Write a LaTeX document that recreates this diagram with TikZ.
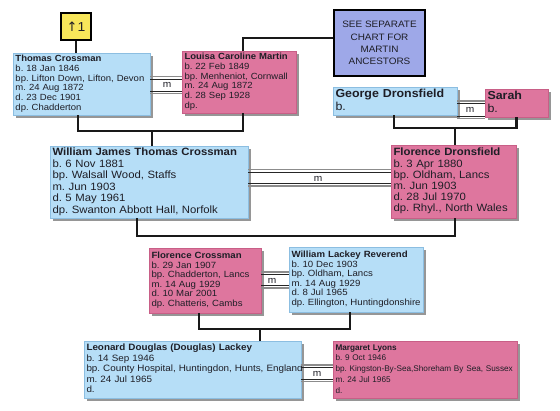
\documentclass[tikz,border=0pt]{standalone}
\usepackage{fontspec}
\setmainfont[FakeStretch=1.07]{Liberation Sans}
\newfontfamily\dejavu{DejaVu Sans}
\newfontfamily\plainfont{Liberation Sans}
\usetikzlibrary{shadows}
\frenchspacing
\newcommand{\plines}[1]{\begin{tabular}{@{}l@{}}#1\end{tabular}}
\definecolor{pblue}{RGB}{182,222,247}
\definecolor{pbluebd}{RGB}{140,190,225}
\definecolor{ppink}{RGB}{222,118,158}
\definecolor{ppinkbd}{RGB}{200,95,135}
\definecolor{plav}{RGB}{158,168,232}
\definecolor{pyel}{RGB}{247,230,90}
\definecolor{shgray}{RGB}{150,150,150}
\definecolor{txt}{RGB}{30,30,38}
\tikzset{
  box/.style={rectangle, inner xsep=2.5pt, inner ysep=1pt, align=left, text=txt,
     drop shadow={shadow xshift=2.5pt, shadow yshift=-2.5pt, fill=shgray, opacity=1}},
  bluebox/.style={box, fill=pblue, draw=pbluebd, line width=0.6pt},
  pinkbox/.style={box, fill=ppink, draw=ppinkbd, line width=0.6pt},
  fam/.style={draw=black!90, line width=2.3pt},
  mdark/.style={draw=black!85, line width=0.9pt},
  mgray/.style={draw=black!45, line width=1.1pt},
  mlab/.style={font=\fontsize{9.5}{10}\selectfont, text=txt, inner sep=0pt},
}
\begin{document}
\begin{tikzpicture}[x=1pt,y=-1pt]
\useasboundingbox[fill=white] (0,0) rectangle (560,410);

% ancestor pointer
\node[draw=black, line width=2pt, fill=pyel, minimum width=30pt, minimum height=27pt, inner sep=0pt,
      font=\fontsize{13}{14}\selectfont, text=txt] (up1) at (76,26.5) {{\dejavu ↑}1};

% see separate chart
\node[draw=black, line width=2.4pt, fill=plav, minimum width=91pt, minimum height=66pt, inner sep=0pt,
      align=center, text=txt, font=\fontsize{9.3}{12.2}\selectfont] (sep) at (379.5,43)
      {SEE SEPARATE\\CHART FOR\\MARTIN\\ANCESTORS};

% generation 1
\node[bluebox, text width=132pt, minimum height=62pt, font=\fontsize{8.9}{9.8}\selectfont] (thomas) at (81.5,84)
 {\plines{\textbf{Thomas Crossman}\\b. 18 Jan 1846\\bp. Lifton Down, Lifton, Devon\\m. 24 Aug 1872\\d. 23 Dec 1901\\dp. Chadderton}};
\node[pinkbox, text width=109pt, minimum height=62pt, font=\fontsize{8.9}{9.9}\selectfont] (louisa) at (239,82)
 {\plines{\textbf{Louisa Caroline Martin}\\b. 22 Feb 1849\\bp. Menheniot, Cornwall\\m. 24 Aug 1872\\d. 28 Sep 1928\\dp.}};
\node[bluebox, text width=119pt, minimum height=28pt, font=\fontsize{11.6}{13}\selectfont] (george) at (395,101)
 {\plines{\textbf{George Dronsfield}\\b.}};
\node[pinkbox, text width=58pt, minimum height=28pt, font=\fontsize{11.6}{13}\selectfont] (sarah) at (516.5,103)
 {\plines{\textbf{Sarah}\\b.}};

% generation 2
\node[bluebox, text width=193pt, minimum height=72pt, font=\fontsize{10.6}{11.5}\selectfont] (william) at (149,182)
 {\plines{\textbf{William James Thomas Crossman}\\b. 6 Nov 1881\\bp. Walsall Wood, Staffs\\m. Jun 1903\\d. 5 May 1961\\dp. Swanton Abbott Hall, Norfolk}};
\node[pinkbox, text width=120pt, minimum height=73pt, font=\fontsize{10.6}{11.1}\selectfont] (florenced) at (453.5,181.5)
 {\plines{\textbf{Florence Dronsfield}\\b. 3 Apr 1880\\bp. Oldham, Lancs\\m. Jun 1903\\d. 28 Jul 1970\\dp. Rhyl., North Wales}};

% generation 3
\node[pinkbox, text width=107pt, minimum height=65pt, font=\fontsize{9}{9.6}\selectfont] (florencec) at (205,280.5)
 {\plines{\textbf{Florence Crossman}\\b. 29 Jan 1907\\bp. Chadderton, Lancs\\m. 14 Aug 1929\\d. 10 Mar 2001\\dp. Chatteris, Cambs}};
\node[bluebox, text width=129pt, minimum height=65pt, font=\fontsize{9}{9.6}\selectfont] (wlackey) at (356,279.5)
 {\plines{\textbf{William Lackey Reverend}\\b. 10 Dec 1903\\bp. Oldham, Lancs\\m. 14 Aug 1929\\d. 8 Jul 1965\\dp. Ellington, Huntingdonshire}};

% generation 4
\node[bluebox, text width=212pt, minimum height=57pt, font=\fontsize{9.2}{10.6}\selectfont] (leonard) at (192.5,369.5)
 {\plines{\textbf{Leonard Douglas (Douglas) Lackey}\\b. 14 Sep 1946\\bp. County Hospital, Huntingdon, Hunts, England\\m. 24 Jul 1965\\d.}};
\node[pinkbox, text width=179pt, minimum height=57pt, font=\plainfont\fontsize{8.2}{10.8}\selectfont] (margaret) at (425,369.5)
 {\plines{\textbf{Margaret Lyons}\\b. 9 Oct 1946\\bp. Kingston-By-Sea,Shoreham By Sea, Sussex\\m. 24 Jul 1965\\d.}};

% pointer lines
\draw[fam] (up1.south) -- (up1.south |- thomas.north);
\draw[fam] ([xshift=4pt]louisa.north) |- (sep.west |- 0,38);

% family connectors
\draw[fam] ([xshift=-3.5pt]thomas.south) -- ++(0,16) coordinate (j1a) -| ([xshift=4pt]louisa.south);
\draw[fam] ([xshift=3pt]william.north) -- ([xshift=3pt]william.north |- j1a);
\draw[fam] ([xshift=-1pt]george.south) -- ++(0,13) coordinate (j2a) -| ([xshift=0pt]sarah.south);
\draw[fam] ([xshift=1.5pt]florenced.north) -- ([xshift=1.5pt]florenced.north |- j2a);
\draw[fam] ([xshift=-12pt]william.south) -- ++(0,18) -| ([xshift=1.5pt]florenced.south);
\draw[fam] ([xshift=-6pt]florencec.south) -- ++(0,16) coordinate (j3a) -| ([xshift=-6pt]wlackey.south);
\draw[fam] ([xshift=67.5pt]leonard.north) -- ([xshift=67.5pt]leonard.north |- j3a);

% marriage lines
\draw[mgray] (thomas.east |- 0,76.5) -- (louisa.west |- 0,76.5);
\draw[mdark] (thomas.east |- 0,79) -- (louisa.west |- 0,79);
\draw[mdark] (thomas.east |- 0,91) -- (louisa.west |- 0,91);
\draw[mgray] (thomas.east |- 0,93.5) -- (louisa.west |- 0,93.5);
\node[mlab] (m1) at (167,85) {m};

\draw[mgray] (george.east |- 0,101) -- (sarah.west |- 0,101);
\draw[mdark] (george.east |- 0,103.5) -- (sarah.west |- 0,103.5);
\draw[mdark] (george.east |- 0,116) -- (sarah.west |- 0,116);
\draw[mgray] (george.east |- 0,118.5) -- (sarah.west |- 0,118.5);
\node[mlab] (m2) at (470,110) {m};

\draw[mgray] (william.east |- 0,169.5) -- (florenced.west |- 0,169.5);
\draw[mdark] (william.east |- 0,172) -- (florenced.west |- 0,172);
\draw[mdark] (william.east |- 0,183.5) -- (florenced.west |- 0,183.5);
\draw[mgray] (william.east |- 0,186) -- (florenced.west |- 0,186);
\node[mlab] (m3) at (318,179) {m};

\draw[mgray] (florencec.east |- 0,272) -- (wlackey.west |- 0,272);
\draw[mdark] (florencec.east |- 0,274.5) -- (wlackey.west |- 0,274.5);
\draw[mdark] (florencec.east |- 0,285.5) -- (wlackey.west |- 0,285.5);
\draw[mgray] (florencec.east |- 0,288) -- (wlackey.west |- 0,288);
\node[mlab] (m4) at (272,281) {m};

\draw[mgray] (leonard.east |- 0,365) -- (margaret.west |- 0,365);
\draw[mdark] (leonard.east |- 0,367.5) -- (margaret.west |- 0,367.5);
\draw[mdark] (leonard.east |- 0,379) -- (margaret.west |- 0,379);
\draw[mgray] (leonard.east |- 0,381.5) -- (margaret.west |- 0,381.5);
\node[mlab] (m5) at (317,374) {m};
\end{tikzpicture}
\end{document}
